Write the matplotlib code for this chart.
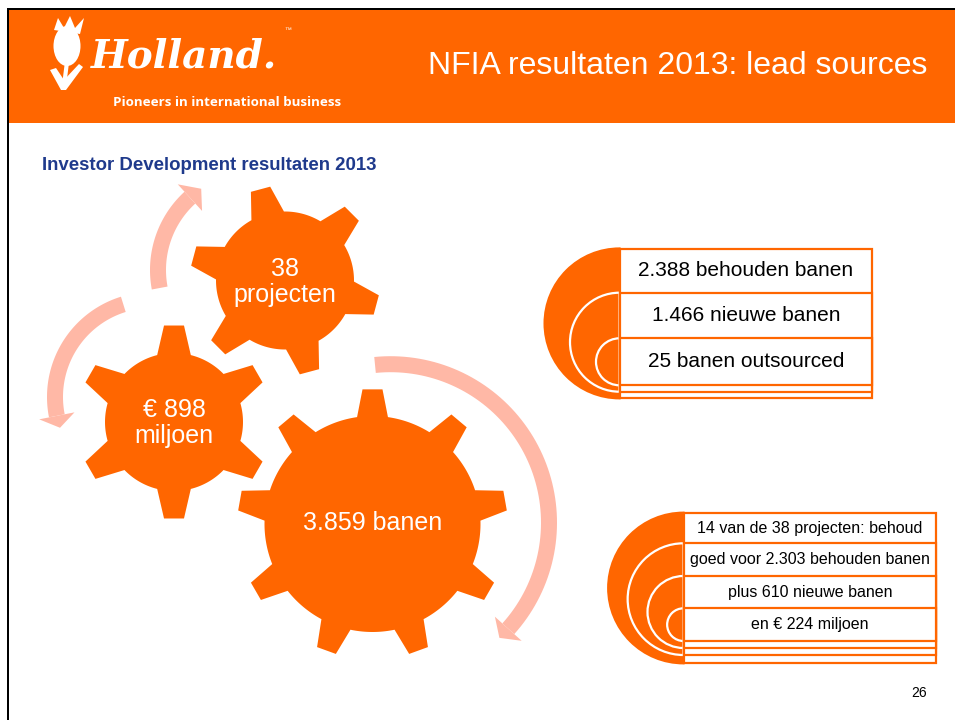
import numpy as np
import matplotlib

matplotlib.use("Agg")
import matplotlib.pyplot as plt
from matplotlib.patches import Rectangle, Polygon, Wedge, Ellipse

plt.rcParams["font.family"] = ["Liberation Sans", "DejaVu Sans"]

# ---- slide texts / values ----
slide_title = "NFIA resultaten 2013: lead sources"
section_title = "Investor Development resultaten 2013"
logo_word = "Holland."
logo_tagline = "Pioneers in international business"
gear_labels = ["38\nprojecten", "\u20ac 898\nmiljoen", "3.859 banen"]
upper_box_labels = ["2.388 behouden banen", "1.466 nieuwe banen", "25 banen outsourced"]
lower_box_labels = ["14 van de 38 projecten: behoud", "goed voor 2.303 behouden banen",
                    "plus 610 nieuwe banen", "en \u20ac 224 miljoen"]
page_number = "26"

ORANGE = "#FF6600"
PINK = "#FFB8A6"
NAVY = "#1F3A8C"

fig = plt.figure(figsize=(9.55, 7.2), dpi=100)
ax = fig.add_axes([0, 0, 1, 1])
ax.set_xlim(0, 955)
ax.set_ylim(720, 0)
ax.axis("off")


def pt(cx, cy, r, deg):
    a = np.radians(deg)
    return cx + r * np.cos(a), cy - r * np.sin(a)


def gear(cx, cy, r_body, r_tip, n, phase, half_base, half_tip):
    step = 360.0 / n
    ab = np.degrees(half_base / r_body)
    at = np.degrees(half_tip / r_tip)
    pts = []
    for k in range(n):
        a = phase + k * step
        pts += [pt(cx, cy, r_body, a - ab), pt(cx, cy, r_tip, a - at),
                pt(cx, cy, r_tip, a + at), pt(cx, cy, r_body, a + ab)]
        for t in np.linspace(a + ab, a + step - ab, 20)[1:-1]:
            pts.append(pt(cx, cy, r_body, t))
    ax.add_patch(Polygon(pts, closed=True, fc=ORANGE, ec="none", zorder=3))


def arc_arrow(cx, cy, r, t0, th, ttip, shaft=16, head=36):
    ts = np.linspace(t0, th, 80)
    outer = [pt(cx, cy, r + shaft / 2, t) for t in ts]
    inner = [pt(cx, cy, r - shaft / 2, t) for t in ts[::-1]]
    ax.add_patch(Polygon(outer + inner, closed=True, fc=PINK, ec="none", zorder=2))
    tri = [pt(cx, cy, r + head / 2, th), pt(cx, cy, r, ttip), pt(cx, cy, r - head / 2, th)]
    ax.add_patch(Polygon(tri, closed=True, fc=PINK, ec="none", zorder=2))


def target(x_left, x_right, tops, bottoms, labels, fs):
    for i, (t, b) in enumerate(zip(tops, bottoms)):
        r = (b - t) / 2
        ax.add_patch(Wedge((x_left, t + r), r, 90, 270, fc=ORANGE,
                           ec=ORANGE if i == 0 else "white", lw=1.6, zorder=2))
    for t, b in zip(tops, bottoms):
        ax.add_patch(Rectangle((x_left, t), x_right - x_left, b - t,
                               fc="white", ec=ORANGE, lw=1.6, zorder=3))
    for i, lab in enumerate(labels):
        y0 = tops[i]
        y1 = tops[i + 1] if i + 1 < len(tops) else bottoms[i]
        ax.text((x_left + x_right) / 2, (y0 + y1) / 2, lab, ha="center", va="center",
                fontsize=fs, color="black", zorder=4)


# ---- slide frame and header ----
ax.add_patch(Rectangle((6.5, 7.5), 948.5, 2.6, fc="black", ec="none", zorder=5))
ax.add_patch(Rectangle((6.5, 7.5), 2.6, 712.5, fc="black", ec="none", zorder=5))
ax.add_patch(Rectangle((9, 10), 946, 112.7, fc=ORANGE, ec="none", zorder=1))

# tulip logo (rough)
ax.add_patch(Ellipse((67, 46), 27, 40, fc="white", ec="none", zorder=2))
ax.add_patch(Polygon([(54, 30), (58, 18), (64, 28), (70, 16), (75, 28), (84, 18), (80, 34)],
                     closed=True, fc="white", ec="none", zorder=2))
ax.add_patch(Polygon([(50, 70), (56, 68), (64, 80), (79, 64), (83, 67), (66, 90), (61, 90)],
                     closed=True, fc="white", ec="none", zorder=2))
ax.plot([67, 64], [62, 86], color="white", lw=3, zorder=2)
ax.text(91, 57, logo_word, fontsize=28, color="white", fontweight="bold", style="italic",
        family="DejaVu Serif", va="center", ha="left", zorder=2)
ax.text(284, 30, "\u2122", fontsize=5, color="white", va="center", zorder=2)
ax.text(113, 102, logo_tagline, fontsize=9.6, color="white", fontweight="bold",
        family=["Open Sans", "DejaVu Sans"], va="center", ha="left", zorder=2)
ax.text(927, 66, slide_title, fontsize=23, color="white", va="center", ha="right", zorder=2)

ax.text(42, 166, section_title, fontsize=13.4, color=NAVY, fontweight="bold",
        va="center", ha="left")

# ---- arrows ----
arc_arrow(256, 270, 98, 190.6, 132.4, 124)
arc_arrow(152, 397, 97, 107.2, 191.2, 198.5)
arc_arrow(390.5, 522.7, 158.5, 95.6, -42, -46.6)

# ---- gears ----
gear(285, 280.5, 69, 95, 6, 105, 17, 10)
gear(174, 422, 69, 97, 6, 90, 17, 10)
gear(372.5, 524, 108, 135, 9, 90, 15.5, 10)

gear_pos = [(285, 282), (174, 423), (372.5, 523)]
for (x, y), lab in zip(gear_pos, gear_labels):
    ax.text(x, y, lab, fontsize=18, color="white", ha="center", va="center",
            linespacing=1.1, zorder=4)

# ---- nested target lists ----
target(619.5, 872, [248.5, 292.7, 338.3], [398.3, 391.7, 385.3], upper_box_labels, 15)
target(683.5, 936, [512.7, 543.3, 576, 608.3], [663.3, 655, 648, 641], lower_box_labels, 11.5)

ax.text(927, 693, page_number, fontsize=10, color="black", ha="right", va="center")

fig.savefig("out.png", dpi=100)
